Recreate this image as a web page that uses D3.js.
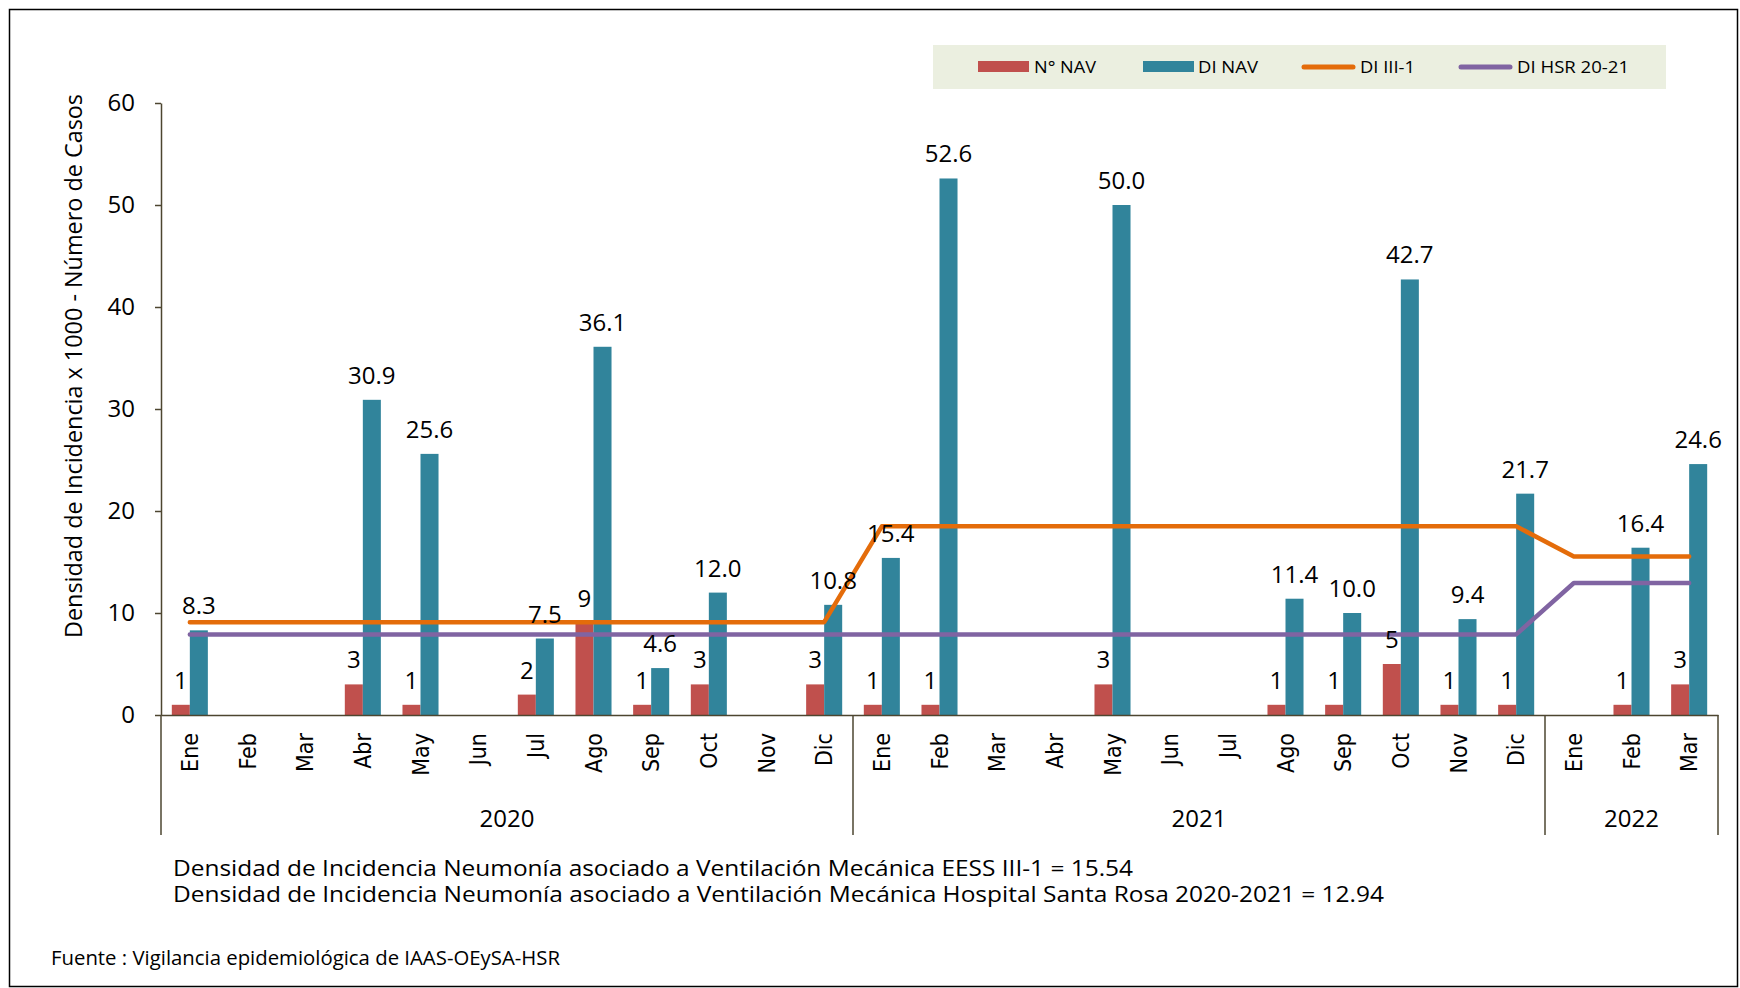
<!DOCTYPE html>
<html>
<head>
<meta charset="utf-8">
<script src="https://cdn.jsdelivr.net/npm/d3@7"></script>
<style>
  body { margin: 0; background: #fff; }
  text { font-family: "Open Sans", sans-serif; fill: #000; }
</style>
</head>
<body>
<div id="chart"></div>
<script>
// Categories (month / year)
const monthLabels = ["Ene","Feb","Mar","Abr","May","Jun","Jul","Ago","Sep","Oct","Nov","Dic",
                     "Ene","Feb","Mar","Abr","May","Jun","Jul","Ago","Sep","Oct","Nov","Dic",
                     "Ene","Feb","Mar"];
const yearLabels = ["2020", "2021", "2022"];
const monthsInYear = [12, 12, 3];

// Series values
const navCases = [1, null, null, 3, 1, null, 2, 9, 1, 3, null, 3,
                  1, 1, null, null, 3, null, null, 1, 1, 5, 1, 1,
                  null, 1, 3];
const diNav = [8.3, null, null, 30.9, 25.6, null, 7.5, 36.1, 4.6, 12.0, null, 10.8,
               15.4, 52.6, null, null, 50.0, null, null, 11.4, 10.0, 42.7, 9.4, 21.7,
               null, 16.4, 24.6];
const diIII1 = [9.1, 9.1, 9.1, 9.1, 9.1, 9.1, 9.1, 9.1, 9.1, 9.1, 9.1, 9.1,
                18.5, 18.5, 18.5, 18.5, 18.5, 18.5, 18.5, 18.5, 18.5, 18.5, 18.5, 18.5,
                15.54, 15.54, 15.54];
const diHSR = [7.9, 7.9, 7.9, 7.9, 7.9, 7.9, 7.9, 7.9, 7.9, 7.9, 7.9, 7.9,
               7.9, 7.9, 7.9, 7.9, 7.9, 7.9, 7.9, 7.9, 7.9, 7.9, 7.9, 7.9,
               12.94, 12.94, 12.94];

// Axis ticks and texts
const yTicks = [0, 10, 20, 30, 40, 50, 60];
const yTitle = "Densidad de Incidencia x 1000 - Número de Casos";
const seriesNames = ["N° NAV", "DI NAV", "DI III-1", "DI HSR 20-21"];
const noteLines = [
  "Densidad de Incidencia Neumonía asociado a Ventilación Mecánica EESS III-1 = 15.54",
  "Densidad de Incidencia Neumonía asociado a Ventilación Mecánica Hospital Santa Rosa 2020-2021 = 12.94"
];
const sourceText = "Fuente : Vigilancia epidemiológica de IAAS-OEySA-HSR";

// Chart dimensions
const width = 1740;
const height = 988;
const plotLeft = 161;
const plotRight = 1718;
const plotTop = 103;
const plotBottom = 715;
const axisColor = "#4d4630";

const colors = { nav: "#C0504D", di: "#31849B", iii: "#E46C0A", hsr: "#8064A2" };

const svg = d3.select("#chart").append("svg")
    .attr("width", width)
    .attr("height", height);

// outer frame
svg.append("rect")
    .attr("x", 9.5).attr("y", 9.5)
    .attr("width", 1728).attr("height", 977)
    .attr("fill", "none")
    .attr("stroke", "#000")
    .attr("stroke-width", 1.5);

// Scales
const x = d3.scaleBand()
    .domain(d3.range(monthLabels.length))
    .range([plotLeft, plotRight]);

const xSub = d3.scaleBand()
    .domain(["nav", "di"])
    .range([0, x.bandwidth()])
    .paddingInner(0)
    .paddingOuter(0.6);

const y = d3.scaleLinear()
    .domain([0, 60])
    .range([plotBottom, plotTop]);

const cx = i => x(i) + x.bandwidth() / 2;

// Bars
const barData = [];
navCases.forEach((v, i) => { if (v != null) barData.push({ i, key: "nav", v }); });
diNav.forEach((v, i) => { if (v != null) barData.push({ i, key: "di", v }); });

svg.append("g")
  .selectAll("rect")
  .data(barData)
  .join("rect")
    .attr("x", d => x(d.i) + xSub(d.key))
    .attr("y", d => y(d.v))
    .attr("width", xSub.bandwidth())
    .attr("height", d => y(0) - y(d.v))
    .attr("fill", d => colors[d.key]);

// Lines
const line = d3.line()
    .x((d, i) => cx(i))
    .y(d => y(d));

svg.append("path")
    .datum(diIII1)
    .attr("d", line)
    .attr("fill", "none")
    .attr("stroke", colors.iii)
    .attr("stroke-width", 4.5)
    .attr("stroke-linejoin", "round")
    .attr("stroke-linecap", "round");

svg.append("path")
    .datum(diHSR)
    .attr("d", line)
    .attr("fill", "none")
    .attr("stroke", colors.hsr)
    .attr("stroke-width", 4.5)
    .attr("stroke-linejoin", "round")
    .attr("stroke-linecap", "round");

// Data labels
svg.append("g")
  .selectAll("text")
  .data(barData)
  .join("text")
    .attr("x", d => x(d.i) + xSub(d.key) + xSub.bandwidth() / 2)
    .attr("y", d => y(d.v) - 16)
    .attr("text-anchor", "middle")
    .style("font-size", "24px")
    .text(d => d.key === "di" ? d3.format(".1f")(d.v) : d.v);

// Y axis
svg.append("g")
    .attr("transform", `translate(${plotLeft},0)`)
    .call(d3.axisLeft(y).tickValues(yTicks).tickSize(6).tickSizeOuter(0).tickPadding(20))
    .call(g => g.selectAll(".domain, .tick line").attr("stroke", axisColor).attr("stroke-width", 1.5))
    .selectAll("text")
    .style("font-family", "'Open Sans', sans-serif")
    .style("font-size", "24px")
    .attr("fill", "#000");

// Y axis title
svg.append("text")
    .attr("transform", `translate(82, ${(94 + 638) / 2}) rotate(-90)`)
    .attr("text-anchor", "middle")
    .attr("textLength", 544)
    .attr("lengthAdjust", "spacingAndGlyphs")
    .style("font-size", "23px")
    .text(yTitle);

// X axis (month labels)
svg.append("g")
    .attr("transform", `translate(0,${plotBottom})`)
    .call(d3.axisBottom(x).tickSize(0).tickSizeOuter(0).tickFormat(i => monthLabels[i]))
    .call(g => g.select(".domain").attr("stroke", axisColor).attr("stroke-width", 1.5))
    .selectAll("text")
    .attr("transform", "rotate(-90)")
    .attr("text-anchor", "end")
    .attr("x", -18)
    .attr("y", 0)
    .attr("dy", "0.36em")
    .attr("fill", "#000")
    .style("font-family", "'DejaVu Sans Condensed', 'DejaVu Sans', sans-serif")
    .style("font-stretch", "condensed")
    .style("font-size", "23px");

// Year brackets and labels
const yearStarts = d3.cumsum([0, ...monthsInYear]);
const bounds = Array.from(yearStarts, s => s < monthLabels.length ? x(s) : x(s - 1) + x.bandwidth());

svg.append("g")
  .selectAll("line")
  .data(bounds)
  .join("line")
    .attr("x1", d => d).attr("x2", d => d)
    .attr("y1", plotBottom).attr("y2", 835)
    .attr("stroke", axisColor)
    .attr("stroke-width", 1.5);

svg.append("g")
  .selectAll("text")
  .data(yearLabels)
  .join("text")
    .attr("x", (d, k) => (bounds[k] + bounds[k + 1]) / 2)
    .attr("y", 827)
    .attr("text-anchor", "middle")
    .style("font-size", "24px")
    .text(d => d);

// Legend
const legend = svg.append("g");
legend.append("rect")
    .attr("x", 933).attr("y", 45)
    .attr("width", 733).attr("height", 44)
    .attr("fill", "#EBEFE0");

const legendItems = [
  { name: seriesNames[0], color: colors.nav, type: "bar", x: 978, tx: 1034, tw: 62 },
  { name: seriesNames[1], color: colors.di, type: "bar", x: 1143, tx: 1198, tw: 60 },
  { name: seriesNames[2], color: colors.iii, type: "line", x: 1302, tx: 1360, tw: 55 },
  { name: seriesNames[3], color: colors.hsr, type: "line", x: 1459, tx: 1517, tw: 112 }
];

const li = legend.selectAll(".legend-item")
  .data(legendItems)
  .join("g")
    .attr("class", "legend-item");

li.filter(d => d.type === "bar").append("rect")
    .attr("x", d => d.x).attr("y", 61)
    .attr("width", 51).attr("height", 11)
    .attr("fill", d => d.color);

li.filter(d => d.type === "line").append("line")
    .attr("x1", d => d.x + 2).attr("x2", d => d.x + 51)
    .attr("y1", 67).attr("y2", 67)
    .attr("stroke", d => d.color)
    .attr("stroke-width", 5)
    .attr("stroke-linecap", "round");

li.append("text")
    .attr("x", d => d.tx)
    .attr("y", 73)
    .attr("textLength", d => d.tw)
    .attr("lengthAdjust", "spacingAndGlyphs")
    .style("font-size", "17px")
    .text(d => d.name);

// Notes
svg.append("g")
  .selectAll("text")
  .data(noteLines)
  .join("text")
    .attr("x", 173)
    .attr("y", (d, k) => 876 + k * 25.5)
    .attr("textLength", (d, k) => k === 0 ? 960 : 1211)
    .attr("lengthAdjust", "spacingAndGlyphs")
    .style("font-size", "22px")
    .text(d => d);

svg.append("text")
    .attr("x", 51)
    .attr("y", 965)
    .attr("textLength", 509)
    .attr("lengthAdjust", "spacingAndGlyphs")
    .style("font-size", "20px")
    .text(sourceText);
</script>
</body>
</html>
